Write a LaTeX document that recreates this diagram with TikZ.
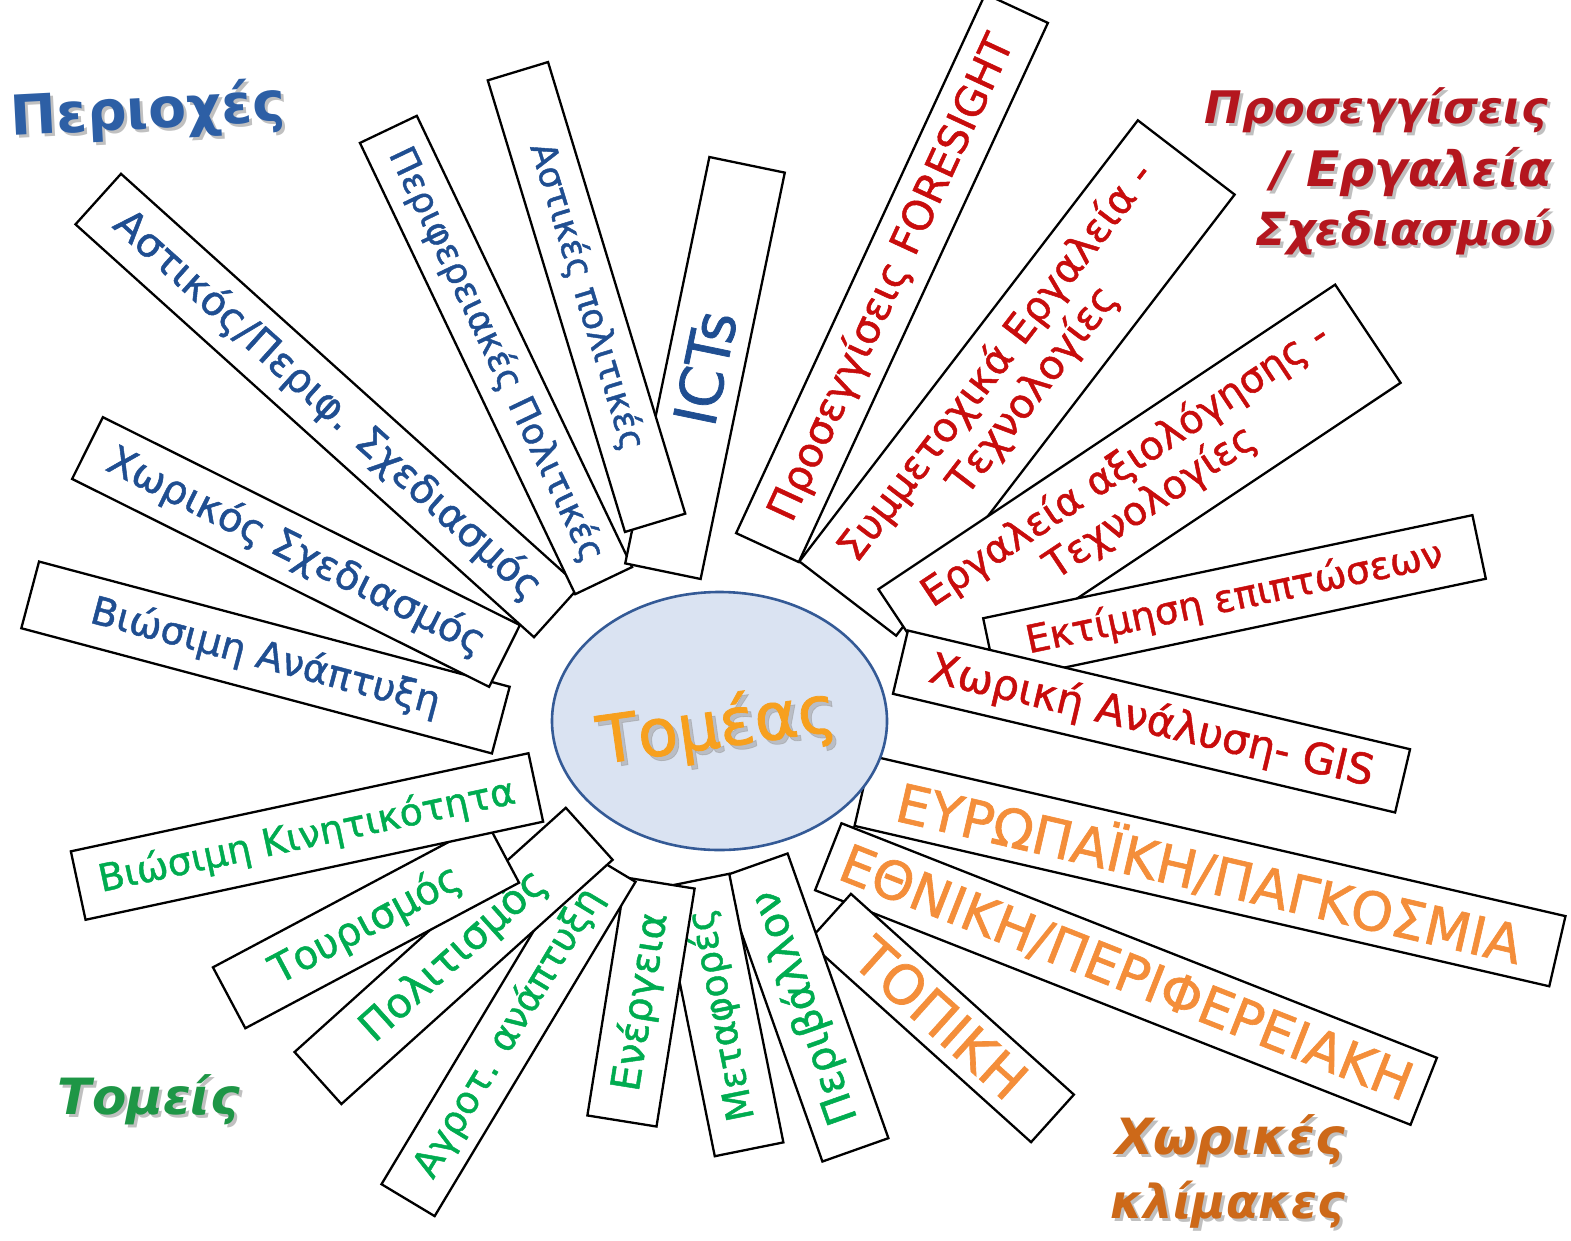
\documentclass[tikz,border=0pt]{standalone}
\usepackage{fontspec}
\setmainfont{DejaVu Sans}
\newfontfamily\boxfont[FakeBold=1.2]{DejaVu Sans}
\usetikzlibrary{shapes.geometric}
\definecolor{cbl}{RGB}{31,78,145}
\definecolor{crd}{RGB}{200,12,12}
\definecolor{cor}{RGB}{244,142,58}
\definecolor{cgr}{RGB}{0,172,80}
\definecolor{hbl}{RGB}{45,95,165}
\definecolor{hrd}{RGB}{180,22,30}
\definecolor{hgr}{RGB}{30,150,70}
\definecolor{hbr}{RGB}{205,105,25}
\definecolor{htm}{RGB}{247,160,30}
\definecolor{elfill}{RGB}{218,227,242}
\definecolor{elline}{RGB}{52,90,150}
% name, cx, cy, angle, length, width, colour, text width, text
\newcommand\mybox[9]{\node[bx, rotate=#4, minimum width=#5pt, minimum height=#6pt, text=#7] (#1) at (#2,#3) {\resizebox{#8pt}{!}{#9}};}
% name, x, y, angle, width, colour, text
\newcommand\myhead[7]{%
  \node[hd, text=black!45, opacity=0.55, rotate=#4] (#1s) at (#2+3,#3+3) {\resizebox{#5pt}{!}{#7}};
  \node[hd, text=#6, rotate=#4] (#1) at (#2,#3) {\resizebox{#5pt}{!}{#7}};}
\newcommand\two[2]{\begin{tabular}{@{}c@{}}#1\\#2\end{tabular}}
\begin{document}
\begin{tikzpicture}[x=1pt,y=-1pt,
  bx/.style={draw=black, fill=white, line width=2.3pt, inner sep=0pt, align=center, font=\boxfont\fontsize{30}{34}\selectfont},
  hd/.style={inner sep=0pt, font=\fontsize{40}{44}\selectfont\bfseries},
  cen/.style={inner sep=0pt, font=\boxfont\fontsize{40}{44}\selectfont}]
\useasboundingbox (0,0) rectangle (1571,1240);
% blue group
\mybox{a3}{265.5}{657.5}{-14.9}{487}{69}{cbl}{360}{Βιώσιμη Ανάπτυξη}
\mybox{a2}{296}{552}{-26.5}{466}{69}{cbl}{417}{Χωρικός Σχεδιασμός}
\mybox{a1}{327.5}{405.5}{-42}{617}{68}{cbl}{560}{Αστικός/Περιφ. Σχεδιασμός}
\mybox{a4}{496}{355}{-64.5}{500}{63}{cbl}{455}{Περιφερειακές Πολιτικές}
\mybox{a6}{705}{368}{78.3}{415}{77}{cbl}{115}{ICTs}
\mybox{a5}{586.5}{297}{-73.1}{472}{63}{cbl}{320}{Αστικές πολιτικές}
% red group
\mybox{r2}{1017}{378}{52.5}{556}{122}{crd}{490}{\two{Συμμετοχικά Εργαλεία -}{Τεχνολογίες}}
\mybox{r1}{892}{278}{65.2}{594}{69}{crd}{530}{Προσεγγίσεις FORESIGHT}
\mybox{r3}{1139.5}{486}{33.7}{549}{118}{crd}{480}{\two{Εργαλεία αξιολόγησης -}{Τεχνολογίες}}
\mybox{r4}{1234.5}{598.5}{11.9}{500}{65}{crd}{425}{Εκτίμηση επιπτώσεων}
\mybox{r5}{1151.5}{721.5}{-13.3}{516}{65}{crd}{455}{Χωρική Ανάλυση- GIS}
% orange group
\mybox{o2}{1126}{974}{-21.5}{640}{72}{cor}{610}{ΕΘΝΙΚΗ/ΠΕΡΙΦΕΡΕΙΑΚΗ}
\mybox{o1}{1210}{871}{-13}{713}{72}{cor}{640}{ΕΥΡΩΠΑΪΚΗ/ΠΑΓΚΟΣΜΙΑ}
\mybox{o3}{941}{1018}{-42}{300}{64}{cor}{210}{ΤΟΠΙΚΗ}
% green group
\mybox{g7}{805}{1007.5}{109.5}{302}{70}{cgr}{245}{Περιβάλλον}
\mybox{g6}{722}{1015}{101.4}{274}{70}{cgr}{215}{Μεταφορές}
\mybox{g5}{641}{1002}{80.9}{241}{70}{cgr}{180}{Ενέργεια}
\mybox{g4}{508.5}{1033}{59}{390}{62}{cgr}{330}{Αγροτ. ανάπτυξη}
\mybox{g3}{453.6}{955.9}{42}{365}{70}{cgr}{235}{Πολιτισμός}
\mybox{g2}{366}{925}{28}{310}{69}{cgr}{210}{Τουρισμός}
\mybox{g1}{307}{836.5}{12.1}{468}{70}{cgr}{425}{Βιώσιμη Κινητικότητα}
% centre
\node[ellipse, draw=elline, fill=elfill, line width=2.6pt, minimum width=335pt, minimum height=258pt] (c) at (719.5,721) {};
\node[cen, text=black!40, opacity=0.5, rotate=8] (ts) at (721,732) {\resizebox{240pt}{!}{Τομέας}};
\node[cen, text=htm, rotate=8] (t) at (717,728) {\resizebox{240pt}{!}{Τομέας}};
% headings
\myhead{h1}{148}{112}{3}{275}{hbl}{Περιοχές}
\myhead{h2}{1376}{110}{0}{343}{hrd}{\itshape Προσεγγίσεις}
\myhead{h3}{1412}{172}{0}{281}{hrd}{\itshape / Εργαλεία}
\myhead{h4}{1404}{232}{0}{298}{hrd}{\itshape Σχεδιασμού}
\myhead{h5}{149}{1100}{0}{182}{hgr}{\itshape Τομείς}
\myhead{h6}{1230}{1140}{0}{230}{hbr}{\itshape Χωρικές}
\myhead{h7}{1228}{1205}{0}{235}{hbr}{\itshape κλίμακες}
\end{tikzpicture}
\end{document}
